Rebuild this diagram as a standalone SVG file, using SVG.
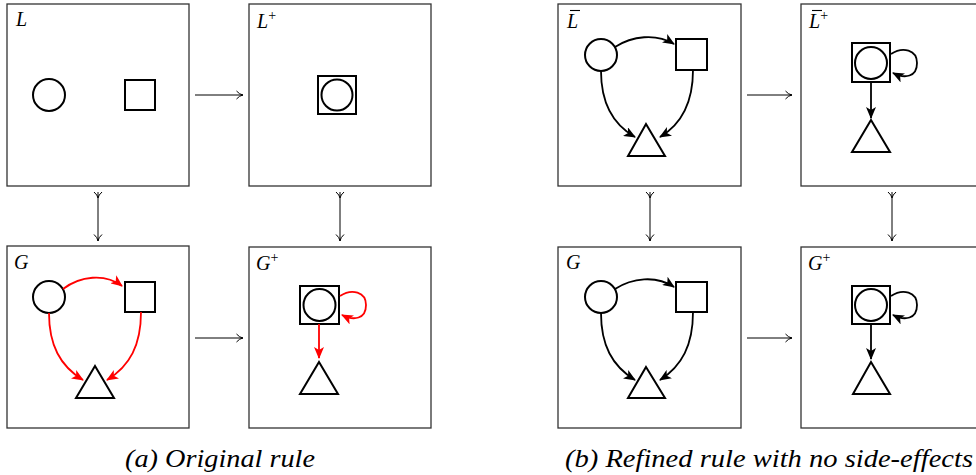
<svg xmlns="http://www.w3.org/2000/svg" width="976" height="475" viewBox="0 0 976 475">
<style>
.box{fill:#fff;stroke:#333;stroke-width:1.3}
.sh{fill:none;stroke:#000;stroke-width:2}
.e{fill:none;stroke:#000;stroke-width:1.8}
.r{fill:none;stroke:#f00;stroke-width:1.8}
.thin{fill:none;stroke:#000;stroke-width:1}
.bar{stroke:#000;stroke-width:1.1}
</style>
<defs>
<marker id="ab" viewBox="0 0 12 10" refX="11" refY="5" markerWidth="12" markerHeight="10" markerUnits="userSpaceOnUse" orient="auto">
<path d="M0,0 L12,5 L0,10 L3,5 Z" fill="#000"/>
</marker>
<marker id="ar" viewBox="0 0 12 10" refX="11" refY="5" markerWidth="12" markerHeight="10" markerUnits="userSpaceOnUse" orient="auto">
<path d="M0,0 L12,5 L0,10 L3,5 Z" fill="#f00"/>
</marker>
<marker id="to" viewBox="0 0 8 10" refX="7.5" refY="5" markerWidth="8" markerHeight="10" markerUnits="userSpaceOnUse" orient="auto">
<path d="M1,1 Q4,4.5 7.5,5 Q4,5.5 1,9" fill="none" stroke="#000" stroke-width="1"/>
</marker>
<marker id="tail" viewBox="0 0 8 10" refX="1" refY="5" markerWidth="8" markerHeight="10" markerUnits="userSpaceOnUse" orient="auto">
<path d="M1,1 Q4,4.5 7,5 Q4,5.5 1,9" fill="none" stroke="#000" stroke-width="1"/>
</marker>
</defs>

<g id="box-L">
<rect class="box" x="7" y="4" width="182" height="182"/>
<text x="16" y="26" style="font-family:'Liberation Serif',serif !important;font-style:italic !important;font-size:20px">L</text>
<circle class="sh" cx="49" cy="95" r="16"/>
<rect class="sh" x="125" y="80" width="30" height="30"/>
</g>

<g id="box-Lplus">
<rect class="box" x="249" y="4" width="182" height="182"/>
<text x="257" y="28" style="font-family:'Liberation Serif',serif !important;font-style:italic !important;font-size:20px">L<tspan dy="-8" style="font-style:normal !important;font-size:14px">+</tspan></text>
<rect class="sh" x="318" y="76" width="38" height="38"/>
<circle class="sh" cx="337" cy="95" r="15.5"/>
</g>

<g id="box-G">
<rect class="box" x="7" y="246" width="182" height="182"/>
<text x="14" y="269" style="font-family:'Liberation Serif',serif !important;font-style:italic !important;font-size:20px">G</text>
<circle class="sh" cx="49" cy="297" r="16"/>
<rect class="sh" x="125" y="282" width="30" height="30"/>
<path class="sh" d="M95,366 L114,398 L76,398 Z"/>
</g>

<g id="box-Gplus">
<rect class="box" x="249" y="247" width="182" height="181"/>
<text x="256" y="270" style="font-family:'Liberation Serif',serif !important;font-style:italic !important;font-size:20px">G<tspan dy="-8" style="font-style:normal !important;font-size:14px">+</tspan></text>
<rect class="sh" x="300" y="286" width="39" height="38"/>
<circle class="sh" cx="319.5" cy="305" r="16"/>
<path class="sh" d="M319,362 L338,394 L300,394 Z"/>
</g>

<g id="box-Lbar">
<rect class="box" x="558" y="4" width="183" height="182"/>
<text x="567" y="28" style="font-family:'Liberation Serif',serif !important;font-style:italic !important;font-size:20px">L</text>
<line class="bar" x1="570" y1="10.5" x2="580" y2="10.5"/>
<circle class="sh" cx="601" cy="55" r="16"/>
<rect class="sh" x="676" y="39" width="31" height="31"/>
<path class="sh" d="M646,124 L665,156 L628,156 Z"/>
</g>

<g id="box-Lbarplus">
<rect class="box" x="801" y="4" width="182" height="182"/>
<text x="809" y="28" style="font-family:'Liberation Serif',serif !important;font-style:italic !important;font-size:20px">L<tspan dy="-8" style="font-style:normal !important;font-size:14px">+</tspan></text>
<line class="bar" x1="812" y1="10.5" x2="822" y2="10.5"/>
<rect class="sh" x="852" y="43" width="38" height="39"/>
<circle class="sh" cx="871" cy="63" r="16"/>
<path class="sh" d="M871,120 L890,152 L852,152 Z"/>
</g>

<g id="box-G2">
<rect class="box" x="558" y="247" width="183" height="181"/>
<text x="566" y="269" style="font-family:'Liberation Serif',serif !important;font-style:italic !important;font-size:20px">G</text>
<circle class="sh" cx="601" cy="297" r="16"/>
<rect class="sh" x="676" y="282" width="31" height="30"/>
<path class="sh" d="M646,367 L665,398 L628,398 Z"/>
</g>

<g id="box-G2plus">
<rect class="box" x="801" y="247" width="182" height="181"/>
<text x="808" y="270" style="font-family:'Liberation Serif',serif !important;font-style:italic !important;font-size:20px">G<tspan dy="-8" style="font-style:normal !important;font-size:14px">+</tspan></text>
<rect class="sh" x="852" y="286" width="38" height="38"/>
<circle class="sh" cx="871" cy="305" r="16"/>
<path class="sh" d="M871,362 L890,394 L853,394 Z"/>
</g>

<g id="connectors">
<path class="thin" d="M195,95 L243,95" marker-end="url(#to)"/>
<path class="thin" d="M195,338 L243,338" marker-end="url(#to)"/>
<path class="thin" d="M747,95 L792,95" marker-end="url(#to)"/>
<path class="thin" d="M747,338 L792,338" marker-end="url(#to)"/>
<path class="thin" d="M98,192 L98,241" marker-start="url(#tail)" marker-end="url(#to)"/>
<path class="thin" d="M340,192 L340,241" marker-start="url(#tail)" marker-end="url(#to)"/>
<path class="thin" d="M650,192 L650,241" marker-start="url(#tail)" marker-end="url(#to)"/>
<path class="thin" d="M892,192 L892,241" marker-start="url(#tail)" marker-end="url(#to)"/>

<path class="r" d="M63,289 C80,276 105,273 122,286" marker-end="url(#ar)"/>
<path class="r" d="M49,313 C49,345 60,366 83,380" marker-end="url(#ar)"/>
<path class="r" d="M141,312 C141,345 130,366 107,380" marker-end="url(#ar)"/>
<path class="r" d="M340,296 C352,288 366,292 366,305 C366,319 354,321 342,315" marker-end="url(#ar)"/>
<path class="r" d="M319,324 L319,358" marker-end="url(#ar)"/>

<path class="e" d="M615,47 C632,36 656,33 674,44" marker-end="url(#ab)"/>
<path class="e" d="M601,71 C601,103 612,124 635,137" marker-end="url(#ab)"/>
<path class="e" d="M693,70 C693,103 682,124 660,137" marker-end="url(#ab)"/>
<path class="e" d="M891,54 C903,46 917,50 917,63 C917,77 905,79 893,73" marker-end="url(#ab)"/>
<path class="e" d="M871,82 L871,118" marker-end="url(#ab)"/>
<path class="e" d="M615,289 C632,278 656,275 674,287" marker-end="url(#ab)"/>
<path class="e" d="M601,313 C601,345 612,366 635,380" marker-end="url(#ab)"/>
<path class="e" d="M693,312 C693,345 682,366 660,380" marker-end="url(#ab)"/>
<path class="e" d="M891,296 C903,288 917,292 917,305 C917,319 905,321 893,315" marker-end="url(#ab)"/>
<path class="e" d="M871,324 L871,359" marker-end="url(#ab)"/>
</g>

<text x="125" y="467" textLength="190" lengthAdjust="spacingAndGlyphs" style="font-family:'Liberation Serif',serif !important;font-style:italic !important;font-size:26px">(a) Original rule</text>
<text x="565" y="467" textLength="408" lengthAdjust="spacingAndGlyphs" style="font-family:'Liberation Serif',serif !important;font-style:italic !important;font-size:26px">(b) Refined rule with no side-effects</text>
</svg>
